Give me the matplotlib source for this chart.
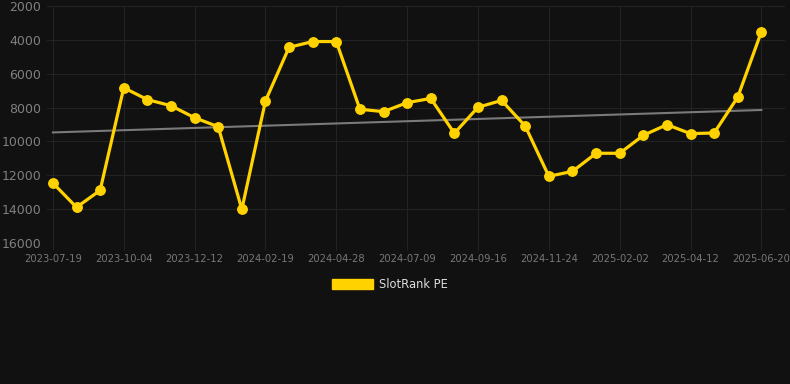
import numpy as np
import matplotlib
matplotlib.use("Agg")
import matplotlib.pyplot as plt

# dates (only every third is labelled on the axis)
dates = [
    "2023-07-19", "2023-08-14", "2023-09-08", "2023-10-04", "2023-10-27",
    "2023-11-19", "2023-12-12", "2024-01-04", "2024-01-27", "2024-02-19",
    "2024-03-12", "2024-04-05", "2024-04-28", "2024-05-21", "2024-06-15",
    "2024-07-09", "2024-08-01", "2024-08-24", "2024-09-16", "2024-10-09",
    "2024-11-01", "2024-11-24", "2024-12-17", "2025-01-09", "2025-02-02",
    "2025-02-25", "2025-03-20", "2025-04-12", "2025-05-05", "2025-05-28",
    "2025-06-20",
]
rank_pe = [
    12460, 13890, 12890, 6830, 7530, 7890, 8600, 9130, 14010, 7610,
    4440, 4100, 4100, 8100, 8240, 7710, 7460, 9520, 7980, 7580,
    9090, 12060, 11770, 10700, 10700, 9640, 9010, 9540, 9500, 7380,
    3520,
]
y_ticks = [2000, 4000, 6000, 8000, 10000, 12000, 14000, 16000]

BG = "#111111"
GRID = "#232323"
TXT = "#808080"
GOLD = "#FFD200"

x = np.arange(len(dates))
slope, icpt = np.polyfit(x, rank_pe, 1)
trend = slope * x + icpt

fig = plt.figure(figsize=(7.9, 3.84), dpi=100, facecolor=BG)
ax = fig.add_axes([47 / 790, 1 - 243 / 384, (785 - 47) / 790, (243 - 6) / 384])
ax.set_facecolor(BG)

ax.plot(x, trend, color="#7a7a7a", lw=1.5, zorder=2)
ax.plot(x, rank_pe, color=GOLD, lw=2.3, marker="o", ms=6.8,
        markerfacecolor=GOLD, markeredgecolor=GOLD, zorder=3,
        label="SlotRank PE")

ax.set_xlim(-0.25, 31.0)
ax.set_ylim(16000, 2000)
ax.set_yticks(y_ticks)
ax.set_yticklabels([str(v) for v in y_ticks])
ax.set_xticks(x[::3])
ax.set_xticklabels(dates[::3])

ax.grid(True, color=GRID, lw=0.8)
ax.set_axisbelow(True)
for s in ax.spines.values():
    s.set_visible(False)
ax.tick_params(axis="y", colors=TXT, labelsize=9, length=0, pad=4)
ax.tick_params(axis="x", colors=GRID, labelcolor="#777777", labelsize=7.2,
               length=5, pad=3)

leg = fig.legend(handles=[plt.Rectangle((0, 0), 1, 1, color=GOLD)],
                 labels=["SlotRank PE"], loc="center",
                 bbox_to_anchor=(390 / 790, 1 - 284 / 384),
                 frameon=False, handlelength=3.5, handleheight=0.95,
                 handletextpad=0.55, fontsize=8.3)
for t in leg.get_texts():
    t.set_color("#dddddd")

fig.savefig("out.png", dpi=100, facecolor=BG)
